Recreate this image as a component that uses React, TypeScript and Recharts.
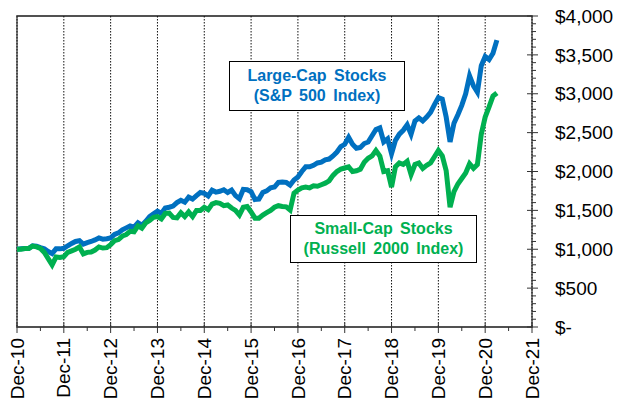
import React from "react";
import { LineChart, Line, XAxis, YAxis, CartesianGrid } from "recharts";

// month-end values of $1,000 invested, Dec-10 .. Mar-21
const largeCap = [
  1000, 1005, 1010, 1010, 1045, 1040, 1020, 1005, 970, 945, 1005, 1005, 1012,
  1045, 1075, 1100, 1110, 1065, 1085, 1100, 1120, 1145, 1130, 1135, 1145,
  1190, 1210, 1250, 1275, 1300, 1285, 1340, 1310, 1360, 1420, 1455, 1490,
  1460, 1530, 1540, 1555, 1600, 1630, 1605, 1670, 1645, 1690, 1730, 1720,
  1685, 1760, 1735, 1745, 1765, 1730, 1760, 1690, 1650, 1770, 1765, 1740,
  1640, 1645, 1730, 1750, 1790, 1800, 1860, 1865, 1860, 1825, 1890, 1930,
  2000, 2060, 2060, 2080, 2110, 2120, 2150, 2160, 2200, 2250, 2320, 2350,
  2440, 2350, 2300, 2310, 2360, 2380, 2460, 2540, 2560, 2380, 2420, 2230,
  2400, 2480, 2530, 2600, 2480, 2650, 2690, 2650, 2700, 2760, 2860, 2950,
  2930, 2700, 2380, 2620, 2730, 2850, 3000, 3230, 3100, 3020, 3360, 3480,
  3440, 3520, 3690,
];

const smallCap = [
  1000, 1000, 1010, 1010, 1040, 1030, 1010, 960, 880, 800, 900, 895, 905,
  960, 980, 1000, 1030, 940, 960, 965, 990, 1030, 1015, 1020, 1060,
  1110, 1125, 1170, 1190, 1230, 1225, 1300, 1270, 1340, 1370, 1410, 1420,
  1390, 1460, 1465, 1410, 1405, 1470, 1420, 1480, 1420, 1500, 1500, 1540,
  1510, 1580, 1600, 1590, 1560, 1570, 1530, 1500, 1440, 1540, 1550, 1480,
  1400, 1400, 1440, 1470, 1500, 1540, 1560, 1550, 1545, 1505, 1720, 1760,
  1790, 1800, 1790, 1815, 1810, 1830, 1850, 1880, 1950, 2000, 2030, 2045,
  2060, 2000, 2010, 2030, 2120, 2170, 2200, 2270, 2200, 2000, 2010, 1800,
  2060, 2110, 2090, 2130, 1960, 2090, 2110, 2040, 2080, 2110, 2190, 2270,
  2200, 2010, 1540, 1740, 1840, 1910, 1980, 2100, 2040, 2090, 2480, 2700,
  2830, 2970, 3010,
];

const xTickLabels = [
  "Dec-10", "Dec-11", "Dec-12", "Dec-13", "Dec-14", "Dec-15",
  "Dec-16", "Dec-17", "Dec-18", "Dec-19", "Dec-20", "Dec-21",
];

const yTickLabels = [
  "$-", "$500", "$1,000", "$1,500", "$2,000", "$2,500", "$3,000", "$3,500", "$4,000",
];

const data = largeCap.map((v, i) => ({ m: i, large: v, small: smallCap[i] }));

const xTicks: number[] = [];
for (let m = 0; m <= 132; m += 6) xTicks.push(m);
const xGridTicks = [12, 24, 36, 48, 60, 72, 84, 96, 108, 120];
const yTicks: number[] = [];
for (let v = 0; v <= 4000; v += 100) yTicks.push(v);
const yGridTicks = [500, 1000, 1500, 2000, 2500, 3000, 3500];

const font = "'Liberation Sans', Arial, sans-serif";

const XTick = (props: any) => {
  const { x, y, payload } = props;
  const v = payload.value;
  if (v % 12 !== 0) {
    return <line x1={x} x2={x} y1={y} y2={y + 4} stroke="#333" />;
  }
  return (
    <g>
      <line x1={x} x2={x} y1={y - 4} y2={y + 6} stroke="#333" />
      <text
        transform={`translate(${x},${y + 11}) rotate(-90)`}
        textAnchor="end"
        dy="0.35em"
        fontSize={19}
        fontFamily={font}
        fill="#000"
      >
        {xTickLabels[v / 12]}
      </text>
    </g>
  );
};

const YTick = (props: any) => {
  const { x, y, payload } = props;
  const v = payload.value;
  if (v % 500 !== 0) {
    return <line x1={x} x2={x + 4} y1={y} y2={y} stroke="#333" />;
  }
  return (
    <g>
      <line x1={x - 5} x2={x + 6} y1={y} y2={y} stroke="#333" />
      <text
        x={x + 23}
        y={y}
        dy="0.35em"
        textAnchor="start"
        fontSize={19}
        fontFamily={font}
        fill="#000"
      >
        {yTickLabels[v / 500]}
      </text>
    </g>
  );
};

const boxStyle: React.CSSProperties = {
  position: "absolute",
  background: "#fff",
  border: "1.5px solid #000",
  boxSizing: "border-box",
  fontFamily: font,
  fontWeight: "bold",
  fontSize: 16,
  lineHeight: "20px",
  textAlign: "center",
  wordSpacing: 3,
};

export default function App() {
  return (
    <div style={{ position: "absolute", left: 0, top: 0, width: 618, height: 409 }}>
      <div
        style={{
          position: "absolute",
          left: 16,
          top: 15,
          width: 517,
          height: 313,
          border: "2px solid #808080",
          boxSizing: "border-box",
        }}
      />
      <LineChart
        width={618}
        height={409}
        data={data}
        margin={{ top: 16, right: 0, bottom: 0, left: 17 }}
      >
        <XAxis
          dataKey="m"
          type="number"
          domain={[0, 132]}
          ticks={xTicks}
          interval={0}
          tick={<XTick />}
          tickLine={false}
          tickSize={0}
          tickMargin={0}
          axisLine={false}
          height={82}
        />
        <XAxis
          xAxisId="grid"
          dataKey="m"
          type="number"
          domain={[0, 132]}
          ticks={xGridTicks}
          interval={0}
          hide
        />
        <YAxis
          orientation="right"
          type="number"
          domain={[0, 4000]}
          ticks={yTicks}
          interval={0}
          tick={<YTick />}
          tickLine={false}
          tickSize={0}
          tickMargin={0}
          axisLine={false}
          width={86}
        />
        <YAxis
          yAxisId="grid"
          orientation="right"
          type="number"
          domain={[0, 4000]}
          ticks={yGridTicks}
          interval={0}
          hide
        />
        <CartesianGrid
          xAxisId="grid"
          yAxisId="grid"
          vertical={false}
          stroke="#222"
        />
        <CartesianGrid
          xAxisId="grid"
          yAxisId="grid"
          horizontal={false}
          stroke="#111"
          strokeDasharray="1.5 1.5"
        />
        <Line
          dataKey="large"
          stroke="#0070C0"
          strokeWidth={5}
          dot={false}
          isAnimationActive={false}
        />
        <Line
          dataKey="small"
          stroke="#00B050"
          strokeWidth={5}
          dot={false}
          isAnimationActive={false}
        />
      </LineChart>
      <div style={{ ...boxStyle, left: 229, top: 61, width: 176, height: 50, color: "#0070C0", paddingTop: 4 }}>
        Large-Cap Stocks
        <br />
        (S&amp;P 500 Index)
      </div>
      <div style={{ ...boxStyle, left: 290, top: 215, width: 187, height: 48, color: "#00B050", paddingTop: 3 }}>
        Small-Cap Stocks
        <br />
        (Russell 2000 Index)
      </div>
    </div>
  );
}
